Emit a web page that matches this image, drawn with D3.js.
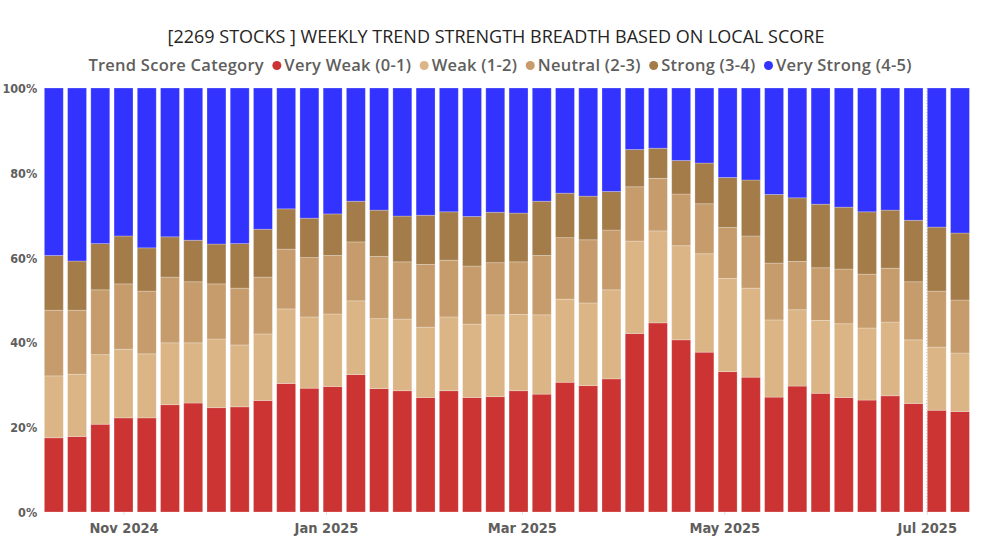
<!DOCTYPE html>
<html>
<head>
<meta charset="utf-8">
<script src="https://cdn.jsdelivr.net/npm/d3@7"></script>
<style>
  html, body { margin: 0; padding: 0; background: #fff; }
  svg { display: block; }
</style>
</head>
<body>
<svg id="chart" width="982" height="547"></svg>
<script>
// ---- DATA ----
const titleText = "[2269 STOCKS ] WEEKLY TREND STRENGTH BREADTH BASED ON LOCAL SCORE";
const legendTitle = "Trend Score Category";
const categories = ["Very Weak (0-1)", "Weak (1-2)", "Neutral (2-3)", "Strong (3-4)", "Very Strong (4-5)"];
const colors = ["#CC3333", "#DBB585", "#C69C6C", "#A37C4A", "#3333FF"];
// weekly dates (Fridays), first week
const firstWeek = "2024-10-11";
const weekCount = 40;
// share (%) of stocks per category for each week
const veryWeak   = [17.5,17.8,20.7,22.2,22.2,25.3,25.7,24.6,24.8,26.3,30.3,29.2,29.6,32.4,29.1,28.6,27.0,28.6,27.0,27.2,28.6,27.8,30.6,29.8,31.4,42.1,44.6,40.6,37.7,33.1,31.8,27.1,29.7,28.0,27.0,26.4,27.4,25.6,24.0,23.7];
const weak       = [14.6,14.7,16.4,16.2,15.1,14.6,14.2,16.2,14.6,15.7,17.6,16.8,17.1,17.4,16.5,16.9,16.6,17.4,17.3,19.3,18.0,18.7,19.6,19.5,21.0,21.8,21.7,22.2,23.2,22.0,21.0,18.2,18.0,17.2,17.4,17.0,17.4,15.0,14.9,13.8];
const neutral    = [15.5,15.1,15.3,15.4,14.8,15.5,14.4,13.0,13.4,13.4,14.1,14.0,13.8,13.9,14.7,13.5,14.8,13.4,13.7,12.3,12.4,14.0,14.5,14.9,14.1,12.8,12.4,12.2,11.8,12.0,12.3,13.4,11.4,12.4,12.9,12.7,12.7,13.7,13.2,12.5];
const strong     = [12.9,11.6,10.9,11.3,10.2,9.5,9.8,9.4,10.5,11.3,9.5,9.3,9.8,9.6,10.9,10.8,11.6,11.4,11.7,11.9,11.5,12.8,10.5,10.3,9.1,8.8,7.1,7.9,9.6,11.8,13.2,16.2,15.0,15.0,14.6,14.7,13.7,14.5,15.1,15.8];
const veryStrong = [39.5,40.8,36.7,34.9,37.7,35.1,35.9,36.8,36.7,33.3,28.5,30.7,29.7,26.7,28.8,30.2,30.0,29.2,30.3,29.3,29.5,26.7,24.8,25.5,24.4,14.5,14.2,17.1,17.7,21.1,21.7,25.1,25.9,27.4,28.1,29.2,28.8,31.2,32.8,34.2];
const yTicks = [0, 0.2, 0.4, 0.6, 0.8, 1.0];

// ---- BUILD TABLE ----
const seriesValues = [veryWeak, weak, neutral, strong, veryStrong];
const parse = d3.utcParse("%Y-%m-%d");
const start = parse(firstWeek);
const dates = d3.range(weekCount).map(i => d3.utcDay.offset(start, i * 7));
const table = dates.map((d, i) => {
  const row = { date: d };
  categories.forEach((c, k) => row[c] = seriesValues[k][i]);
  return row;
});

const svg = d3.select("#chart");
const margin = { left: 42.2, right: 10.4, top: 88, bottom: 35 };
const W = 982, H = 547;

const x = d3.scaleUtc()
  .domain([d3.utcHour.offset(dates[0], -84), d3.utcHour.offset(dates[dates.length - 1], 84)])
  .range([margin.left, W - margin.right]);
const y = d3.scaleLinear().domain([0, 1]).range([H - margin.bottom, margin.top]);
const color = d3.scaleOrdinal().domain(categories).range(colors);

const step = x(d3.utcDay.offset(dates[0], 7)) - x(dates[0]);
const barW = step * 0.815;

const stack = d3.stack().keys(categories).offset(d3.stackOffsetExpand);
const stacked = stack(table);

const font = "'DejaVu Sans Condensed', 'DejaVu Sans', sans-serif";
const uiFont = "'Open Sans', 'Noto Sans', sans-serif";
const gray = "#605E5C";

// vertical dotted gridlines at x ticks
const xTicks = x.ticks(d3.utcMonth.every(2));
svg.append("g").selectAll("line").data(xTicks).join("line")
  .attr("x1", d => x(d)).attr("x2", d => x(d))
  .attr("y1", y(1)).attr("y2", y(0))
  .attr("stroke", "#C8C6C4").attr("stroke-width", 1).attr("stroke-dasharray", "1,2");

// bars
svg.append("g").selectAll("g").data(stacked).join("g")
  .attr("fill", d => color(d.key))
  .selectAll("rect").data(d => d).join("rect")
  .attr("x", d => x(d.data.date) - barW / 2)
  .attr("width", barW)
  .attr("y", d => y(d[1]))
  .attr("height", d => y(d[0]) - y(d[1]))
  .attr("stroke", "#ffffff").attr("stroke-opacity", 0.3).attr("stroke-width", 0.8);

// y axis labels
const yAxis = d3.axisLeft(y).tickValues(yTicks).tickFormat(d3.format(".0%")).tickSize(0).tickPadding(0);
const gy = svg.append("g").attr("transform", `translate(${margin.left - 5},0)`).call(yAxis);
gy.select(".domain").remove();
gy.selectAll("text").attr("font-family", font).attr("font-weight", "bold")
  .attr("font-size", 12.5).attr("fill", gray).attr("dy", "0.36em");

// x axis labels
const xAxis = d3.axisBottom(x).tickValues(xTicks).tickFormat(d3.utcFormat("%b %Y")).tickSize(3).tickPadding(8);
const gx = svg.append("g").attr("transform", `translate(0,${y(0)})`).call(xAxis);
gx.select(".domain").remove();
gx.selectAll("line").attr("stroke", "#E1DFDD");
gx.selectAll("text").attr("font-family", font).attr("font-weight", "bold")
  .attr("font-size", 14.5).attr("fill", gray);

// title
svg.append("text").attr("x", 496).attr("y", 43).attr("text-anchor", "middle")
  .attr("font-family", uiFont).attr("font-size", 18).attr("fill", "#252423")
  .text(titleText);

// legend
const lg = svg.append("g");
const legendFont = 16.5, legendSpacing = 0.25;
const lt = lg.append("text").attr("x", 0).attr("y", 71)
  .attr("font-family", uiFont).attr("font-weight", 600).attr("font-size", legendFont)
  .attr("letter-spacing", legendSpacing).attr("fill", gray)
  .text(legendTitle);
let cx = lt.node().getComputedTextLength() + 13;
categories.forEach((c, k) => {
  lg.append("circle").attr("cx", cx).attr("cy", 65.5).attr("r", 4.5).attr("fill", color(c));
  const t = lg.append("text").attr("x", cx + 7.5).attr("y", 71)
    .attr("font-family", uiFont).attr("font-weight", 600).attr("font-size", legendFont)
    .attr("letter-spacing", legendSpacing).attr("fill", gray)
    .text(c);
  cx += 7.5 + t.node().getComputedTextLength() + 13;
});
const totalW = cx - 13;
lg.attr("transform", `translate(${500 - totalW / 2},0)`);
</script>
</body>
</html>
